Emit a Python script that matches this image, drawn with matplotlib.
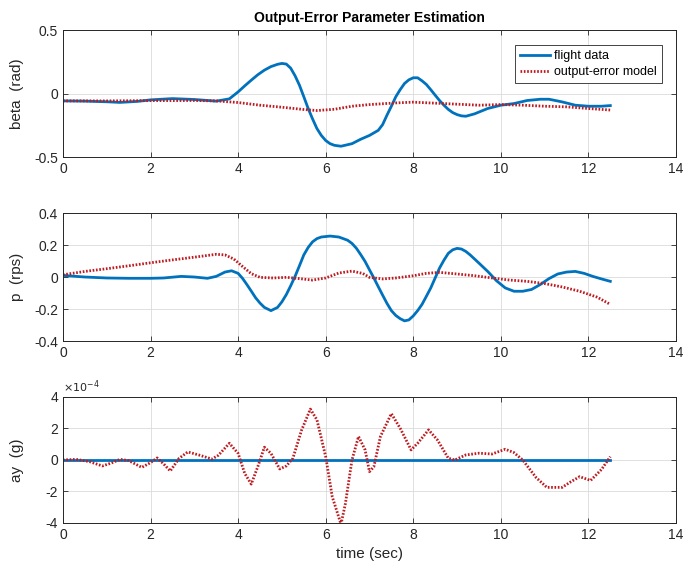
import matplotlib.pyplot as plt

plt.rcParams['font.family'] = ['Liberation Sans', 'DejaVu Sans']
plt.rcParams['font.size'] = 10
plt.rcParams['axes.unicode_minus'] = False

# beta (rad)
beta_t = [0, 0.5, 1.0, 1.3, 1.7, 2.0, 2.5, 3.0, 3.5, 3.8, 4.0, 4.15, 4.3, 4.45, 4.6, 4.75, 4.9,
          5.0, 5.1, 5.2, 5.3, 5.4, 5.5, 5.6, 5.7, 5.8, 5.9, 6.0, 6.1, 6.2, 6.35, 6.6, 6.8, 7.0,
          7.2, 7.3, 7.4, 7.5, 7.6, 7.7, 7.8, 7.9, 8.0, 8.1, 8.2, 8.3, 8.4, 8.5, 8.6, 8.7, 8.8,
          8.9, 9.0, 9.1, 9.2, 9.4, 9.7, 10.0, 10.3, 10.6, 10.9, 11.1, 11.4, 11.7, 12.0, 12.3, 12.5]
beta_flight = [-0.058, -0.06, -0.065, -0.07, -0.062, -0.05, -0.04, -0.047, -0.06, -0.042, 0.013,
               0.06, 0.105, 0.148, 0.184, 0.212, 0.23, 0.237, 0.232, 0.2, 0.14, 0.066, -0.025,
               -0.118, -0.2, -0.276, -0.33, -0.37, -0.395, -0.408, -0.415, -0.395, -0.36, -0.33,
               -0.29, -0.245, -0.17, -0.1, -0.026, 0.03, 0.079, 0.108, 0.124, 0.124, 0.1, 0.071,
               0.03, -0.013, -0.055, -0.092, -0.125, -0.15, -0.166, -0.176, -0.179, -0.16,
               -0.118, -0.092, -0.079, -0.055, -0.045, -0.045, -0.066, -0.092, -0.1, -0.1, -0.095]
beta_model_t = [0, 1.0, 2.0, 3.0, 3.5, 4.0, 4.5, 5.0, 5.5, 5.8, 6.2, 6.6, 7.0, 7.6, 8.0, 8.5,
                9.0, 9.5, 10.0, 10.5, 11.0, 11.5, 12.0, 12.5]
beta_model = [-0.058, -0.058, -0.056, -0.055, -0.058, -0.071, -0.092, -0.108, -0.126, -0.134,
              -0.124, -0.1, -0.087, -0.074, -0.068, -0.076, -0.084, -0.092, -0.087, -0.092,
              -0.1, -0.105, -0.118, -0.13]

# p (rps)
p_t = [0, 0.5, 1.0, 1.5, 2.0, 2.3, 2.7, 3.0, 3.3, 3.5, 3.7, 3.85, 4.0, 4.1, 4.2, 4.3, 4.4, 4.5,
       4.6, 4.75, 4.9, 5.0, 5.1, 5.2, 5.3, 5.4, 5.5, 5.6, 5.7, 5.8, 5.9, 6.1, 6.3, 6.5, 6.6,
       6.7, 6.8, 6.9, 7.0, 7.1, 7.2, 7.3, 7.4, 7.5, 7.6, 7.7, 7.8, 7.9, 8.0, 8.1, 8.2, 8.3,
       8.4, 8.5, 8.6, 8.7, 8.8, 8.9, 9.0, 9.1, 9.2, 9.3, 9.5, 9.7, 9.9, 10.1, 10.3, 10.5, 10.7,
       10.9, 11.1, 11.3, 11.5, 11.7, 11.9, 12.1, 12.3, 12.5]
p_flight = [0.01, 0.0, -0.006, -0.008, -0.008, -0.006, 0.004, 0.0, -0.008, 0.004, 0.031, 0.039,
            0.023, -0.008, -0.047, -0.088, -0.13, -0.163, -0.19, -0.21, -0.19, -0.155, -0.11,
            -0.055, 0.004, 0.07, 0.138, 0.185, 0.22, 0.24, 0.25, 0.256, 0.25, 0.23, 0.21, 0.18,
            0.14, 0.097, 0.045, -0.006, -0.06, -0.113, -0.165, -0.21, -0.24, -0.26, -0.274,
            -0.268, -0.243, -0.21, -0.171, -0.12, -0.068, -0.006, 0.056, 0.105, 0.148, 0.17,
            0.179, 0.175, 0.16, 0.138, 0.087, 0.035, -0.023, -0.068, -0.089, -0.089, -0.078,
            -0.047, -0.01, 0.019, 0.031, 0.035, 0.023, 0.004, -0.012, -0.027]
p_model_t = [0, 0.5, 1.0, 1.5, 2.0, 2.5, 3.0, 3.5, 3.7, 3.9, 4.1, 4.3, 4.5, 4.8, 5.1, 5.4, 5.7,
             6.0, 6.3, 6.6, 6.85, 7.0, 7.3, 7.6, 8.0, 8.3, 8.6, 9.0, 9.4, 9.8, 10.2, 10.6, 11.0,
             11.4, 11.8, 12.2, 12.5]
p_model = [0.014, 0.035, 0.052, 0.07, 0.089, 0.107, 0.124, 0.142, 0.138, 0.113, 0.066, 0.021,
           -0.002, -0.006, -0.002, -0.01, -0.019, -0.006, 0.025, 0.037, 0.022, -0.002, -0.012,
           -0.006, 0.008, 0.023, 0.029, 0.019, 0.008, -0.006, -0.019, -0.027, -0.041, -0.062,
           -0.089, -0.126, -0.171]

# ay (g), in units of 1e-4
ay_flight_t = [0, 12.5]
ay_flight = [0.0, 0.0]
ay_model_t = [0, 0.3, 0.6, 0.9, 1.1, 1.3, 1.5, 1.8, 2.0, 2.15, 2.3, 2.45, 2.65, 2.85, 3.1,
              3.4, 3.55, 3.8, 4.0, 4.15, 4.3, 4.45, 4.6, 4.75, 4.95, 5.1, 5.25, 5.45, 5.65,
              5.8, 6.0, 6.15, 6.35, 6.45, 6.6, 6.75, 6.9, 7.0, 7.1, 7.25, 7.5, 7.7, 7.95, 8.1,
              8.35, 8.55, 8.8, 8.95, 9.2, 9.5, 9.8, 10.1, 10.3, 10.5, 10.8, 11.05, 11.4, 11.6,
              11.8, 12.05, 12.3, 12.5]
ay_model = [0.0, 0.04, -0.1, -0.38, -0.2, 0.04, -0.04, -0.47, -0.17, 0.13, -0.25, -0.7, 0.1,
            0.51, 0.32, 0.06, 0.3, 1.06, 0.42, -0.85, -1.53, -0.42, 0.81, 0.42, -0.57, -0.38,
            0.1, 1.9, 3.23, 2.55, 0.21, -2.34, -4.08, -2.77, 0.0, 1.49, 0.64, -0.74, -0.43,
            1.49, 2.94, 2.02, 0.64, 1.06, 1.91, 1.28, 0.11, 0.0, 0.32, 0.43, 0.38, 0.68, 0.47,
            0.0, -1.1, -1.74, -1.74, -1.38, -1.06, -1.3, -0.6, 0.21]

blue = '#0072BD'
red = '#BE1A1F'
edge = '#262626'

fig = plt.figure(figsize=(6.86, 5.72), dpi=100)
ax1 = fig.add_axes([0.0918, 0.7255, 0.8936, 0.222])
ax2 = fig.add_axes([0.0918, 0.4038, 0.8936, 0.2238])
ax3 = fig.add_axes([0.0918, 0.0857, 0.8936, 0.2203])

dots = (0, (0.6, 0.6))
ax1.plot(beta_t, beta_flight, color=blue, lw=2.0, label='flight data')
ax1.plot(beta_model_t, beta_model, color=red, lw=2.0, ls=dots, label='output-error model')
ax2.plot(p_t, p_flight, color=blue, lw=2.0)
ax2.plot(p_model_t, p_model, color=red, lw=2.0, ls=dots)
ax3.plot(ay_flight_t, ay_flight, color=blue, lw=2.0)
ax3.plot(ay_model_t, ay_model, color=red, lw=2.0, ls=dots)

ax1.set_ylim(-0.5, 0.5)
ax1.set_yticks([-0.5, 0, 0.5])
ax1.set_yticklabels(['-0.5', '0', '0.5'])
ax2.set_ylim(-0.4, 0.4)
ax2.set_yticks([-0.4, -0.2, 0, 0.2, 0.4])
ax2.set_yticklabels(['-0.4', '-0.2', '0', '0.2', '0.4'])
ax3.set_ylim(-4, 4)
ax3.set_yticks([-4, -2, 0, 2, 4])
ax3.set_yticklabels(['-4', '-2', '0', '2', '4'])
ax3.text(0.0, 1.015, r'$\times10^{-4}$', transform=ax3.transAxes, fontsize=8,
         color=edge, ha='left', va='bottom')

for ax in (ax1, ax2, ax3):
    ax.set_xlim(0, 14)
    ax.set_xticks(range(0, 15, 2))
    ax.grid(True, color='#DADADA', lw=0.6)
    ax.set_axisbelow(True)
    ax.tick_params(direction='in', length=3.5, width=0.6, top=True, right=True,
                   colors=edge, labelsize=10)
    for s in ax.spines.values():
        s.set_color(edge)
        s.set_linewidth(0.7)

ax1.set_ylabel('beta  (rad)', color=edge, fontsize=11)
ax2.set_ylabel('p  (rps)', color=edge, fontsize=11)
ax3.set_ylabel('ay  (g)', color=edge, fontsize=11)
ax3.set_xlabel('time (sec)', color=edge, fontsize=11)
for ax in (ax1, ax2, ax3):
    ax.yaxis.set_label_coords(-0.063, 0.5)
ax1.set_title('Output-Error Parameter Estimation', fontsize=10, fontweight='bold', pad=6)

leg = ax1.legend(loc='upper right', fontsize=9, fancybox=False, framealpha=1,
                 edgecolor=edge, handlelength=2.4, handletextpad=0.3, borderpad=0.4,
                 labelspacing=0.3, bbox_to_anchor=(0.987, 0.93))
leg.get_frame().set_linewidth(0.6)

fig.savefig('out.png', dpi=100)
